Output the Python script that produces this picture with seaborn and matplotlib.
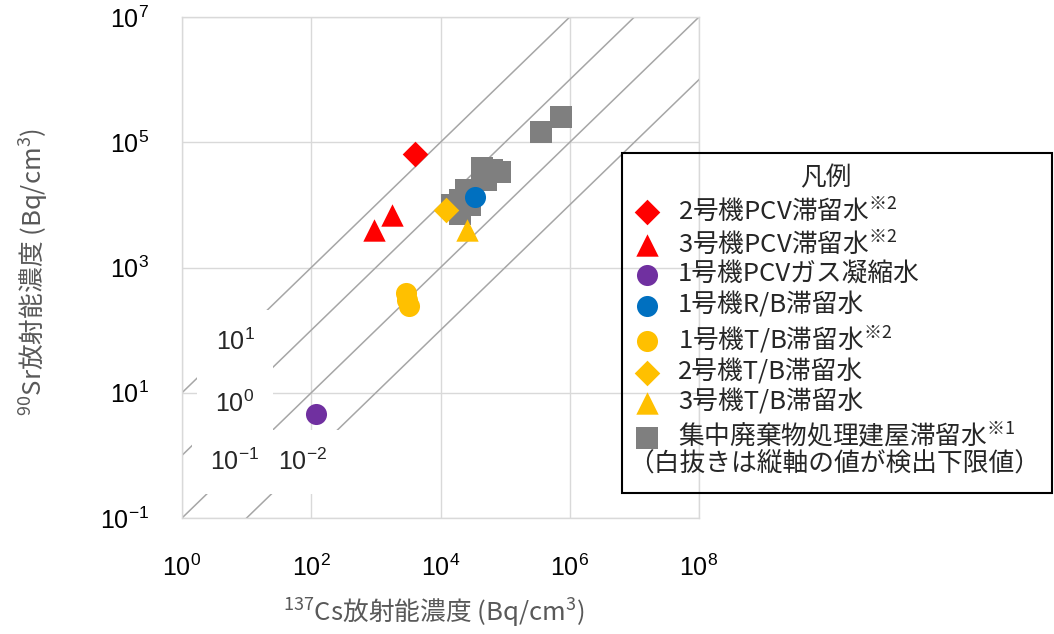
import numpy as np
import matplotlib
matplotlib.use("Agg")
import matplotlib.pyplot as plt
import seaborn as sns
from matplotlib.patches import Rectangle
from matplotlib.ticker import LogFormatterSciNotation, NullLocator

# ── data (Bq/cm3) ─────────────────────────────────────────────────────────────
pcv2_cs = [4.1e3]
pcv2_sr = [6.5e4]
pcv3_cs = [9.4e2, 1.8e3]
pcv3_sr = [4.0e3, 6.9e3]
gas1_cs = [1.2e2]
gas1_sr = [4.5]
rb1_cs = [3.4e4]
rb1_sr = [1.35e4]
tb1_cs = [2.9e3, 3.0e3, 3.2e3]
tb1_sr = [3.9e2, 3.0e2, 2.4e2]
tb2_cs = [1.2e4]
tb2_sr = [8.3e3]
tb3_cs = [2.6e4]
tb3_sr = [4.0e3]
central_cs = [4.4e4, 6.3e4, 8.3e4, 5.1e4, 2.5e4, 2.0e4, 1.5e4, 2.0e4, 2.9e4, 3.6e5, 7.4e5]
central_sr = [3.9e4, 3.6e4, 3.3e4, 2.5e4, 1.74e4, 1.2e4, 1.0e4, 7.1e3, 1.0e4, 1.45e5, 2.5e5]

x_ticks = [1e0, 1e2, 1e4, 1e6, 1e8]
y_ticks = [1e-1, 1e1, 1e3, 1e5, 1e7]

# Sr/Cs ratio guide lines and their labels
ratios = [1e1, 1e0, 1e-1, 1e-2]
ratio_labels = ["$\\mathdefault{10^{1}}$", "$\\mathdefault{10^{0}}$",
                "$\\mathdefault{10^{-1}}$", "$\\mathdefault{10^{-2}}$"]
ratio_label_xy = [(10**0.82, 10**1.81), (10**0.82, 10**0.82),
                  (10**0.82, 10**-0.11), (10**1.87, 10**-0.11)]

RED, PURPLE, BLUE, YELLOW, GRAY = "#FF0000", "#7030A0", "#0070C0", "#FFC000", "#7F7F7F"
JP = "Noto Sans CJK JP"

# ── style ─────────────────────────────────────────────────────────────────────
sns.set_theme(style="white")
plt.rcParams["font.family"] = ["Liberation Sans", JP, "DejaVu Sans"]
plt.rcParams["mathtext.fontset"] = "custom"
plt.rcParams["mathtext.rm"] = JP
plt.rcParams["axes.unicode_minus"] = False

fig = plt.figure(figsize=(10.54, 6.34), dpi=100)
ax = fig.add_axes([182 / 1054, 1 - 518 / 634, 517 / 1054, 501 / 634])
ax.set_xscale("log")
ax.set_yscale("log")
ax.set_xlim(1e0, 1e8)
ax.set_ylim(1e-1, 1e7)
ax.set_xticks(x_ticks)
ax.set_yticks(y_ticks)
ax.xaxis.set_minor_locator(NullLocator())
ax.yaxis.set_minor_locator(NullLocator())
ax.xaxis.set_major_formatter(LogFormatterSciNotation())
ax.yaxis.set_major_formatter(LogFormatterSciNotation())
ax.tick_params(axis="both", labelsize=18, length=0, colors="black")
ax.tick_params(axis="x", pad=26)
ax.tick_params(axis="y", pad=24)
ax.grid(True, color="#D9D9D9", lw=1)
for sp in ax.spines.values():
    sp.set_color("#D9D9D9")
    sp.set_linewidth(1)

# ratio lines
xx = np.array([1e-1, 1e9])
for r in ratios:
    ax.plot(xx, r * xx, color="#A6A6A6", lw=1.1, zorder=1)
for lab, (lx, ly) in zip(ratio_labels, ratio_label_xy):
    ax.text(lx, ly, lab, fontsize=18, ha="center", va="center", zorder=2,
            bbox=dict(boxstyle="square,pad=0.75", fc="white", ec="none"))

# ── scatter groups ───────────────────────────────────────────────────────────
kw = dict(ax=ax, linewidth=0, zorder=3)
sns.scatterplot(x=central_cs, y=central_sr, marker="s", color=GRAY, s=270,
                label="集中廃棄物処理建屋滞留水$^{\\mathrm{※1}}$", **kw)
sns.scatterplot(x=pcv2_cs, y=pcv2_sr, marker="D", color=RED, s=170,
                label="2号機PCV滞留水$^{\\mathrm{※2}}$", **kw)
sns.scatterplot(x=pcv3_cs, y=pcv3_sr, marker="^", color=RED, s=260,
                label="3号機PCV滞留水$^{\\mathrm{※2}}$", **kw)
sns.scatterplot(x=gas1_cs, y=gas1_sr, marker="o", color=PURPLE, s=230,
                label="1号機PCVガス凝縮水", **kw)
sns.scatterplot(x=rb1_cs, y=rb1_sr, marker="o", color=BLUE, s=230,
                label="1号機R/B滞留水", **kw)
sns.scatterplot(x=tb1_cs, y=tb1_sr, marker="o", color=YELLOW, s=230,
                label="1号機T/B滞留水$^{\\mathrm{※2}}$", **kw)
sns.scatterplot(x=tb2_cs, y=tb2_sr, marker="D", color=YELLOW, s=170,
                label="2号機T/B滞留水", **kw)
sns.scatterplot(x=tb3_cs, y=tb3_sr, marker="^", color=YELLOW, s=260,
                label="3号機T/B滞留水", **kw)

handles, labels = ax.get_legend_handles_labels()
order = [1, 2, 3, 4, 5, 6, 7, 0]
ax.get_legend().remove()
leg = fig.legend([handles[i] for i in order], [labels[i] for i in order],
                 loc="upper left", bbox_to_anchor=(637 / 1054, 1 - 165 / 634),
                 frameon=False, prop={"family": JP, "size": 18.5},
                 title="凡例", title_fontproperties={"family": JP, "size": 18.5},
                 handlelength=0.8, handletextpad=0.8, labelspacing=0.17,
                 borderpad=0, borderaxespad=0)
leg._legend_box.align = "center"

# legend frame + note line
fig.patches.append(Rectangle((622 / 1054, 1 - 493 / 634), 430 / 1054, 340 / 634,
                             transform=fig.transFigure, fill=False,
                             ec="black", lw=1.5))
fig.text(628 / 1054, 1 - 465 / 634, "（白抜きは縦軸の値が検出下限値）",
         fontsize=18.5, family=JP, ha="left", va="center")

# axis labels
ax.set_xlabel("$^{\\mathdefault{137}}$Cs放射能濃度 (Bq/cm$^{\\mathdefault{3}}$)",
              fontsize=18.5, color="#595959", family=JP)
ax.set_ylabel("$^{\\mathdefault{90}}$Sr放射能濃度 (Bq/cm$^{\\mathdefault{3}}$)",
              fontsize=18.5, color="#595959", family=JP)
ax.xaxis.label.set_va("center")
ax.yaxis.label.set_va("center")
ax.xaxis.set_label_coords((434 - 182) / 517, (518 - 612) / 501)
ax.yaxis.set_label_coords((33 - 182) / 517, (518 - 272) / 501)

fig.savefig("out.png", dpi=100)
